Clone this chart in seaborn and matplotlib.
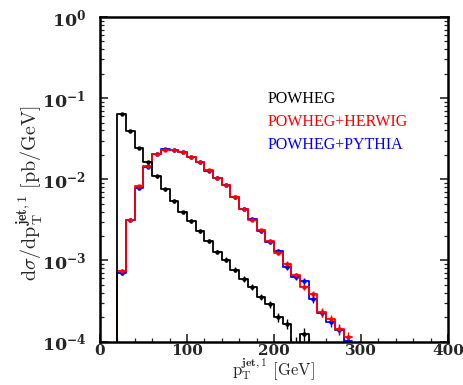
import numpy as np
import pandas as pd
import matplotlib
matplotlib.use("Agg")
import matplotlib.pyplot as plt
import matplotlib.ticker as mticker
import seaborn as sns

# ---- data ----
bin_lo = [20, 30, 40, 50, 60, 70, 80, 90, 100, 110, 120, 130, 140, 150, 160,
          170, 180, 190, 200, 210, 220, 230, 240, 250, 260, 270, 280]
bin_width = 10

powheg = [0.063, 0.0395, 0.0244, 0.0161, 0.0109, 0.0075, 0.0054, 0.0039, 0.00306,
          0.0023, 0.00173, 0.00127, 0.00102, 0.000767, 0.000594, 0.000468, 0.000352,
          0.000286, 0.0002, 0.000166, 0.00009, 0.000124, 0, 0, 0, 0, 0]
# relative uncertainties
powheg_rel = [0.02, 0.03, 0.03, 0.04, 0.04, 0.04, 0.05, 0.05, 0.05, 0.06, 0.06, 0.06,
              0.07, 0.07, 0.08, 0.08, 0.09, 0.10, 0.12, 0.14, 0.25, 0.18, 0, 0, 0, 0, 0]

herwig = [0.00074, 0.00318, 0.0082, 0.0145, 0.0202, 0.0228, 0.0228, 0.0214, 0.0189,
          0.0162, 0.0129, 0.0105, 0.00843, 0.00605, 0.00435, 0.00318, 0.00235, 0.00173,
          0.00124, 0.00091, 0.000653, 0.000468, 0.00038, 0.00023, 0.00019, 0.000144,
          0.000115]
herwig_rel = [0.06, 0.04, 0.03, 0.03, 0.02, 0.02, 0.02, 0.02, 0.02, 0.03, 0.03, 0.03,
              0.03, 0.04, 0.04, 0.05, 0.05, 0.06, 0.06, 0.07, 0.08, 0.09, 0.10, 0.12,
              0.13, 0.14, 0.15]

pythia = [0.0007, 0.00312, 0.0077, 0.0143, 0.0204, 0.0236, 0.0229, 0.0215, 0.019,
          0.0161, 0.0128, 0.0104, 0.0085, 0.006, 0.0043, 0.00322, 0.00232, 0.00168,
          0.00129, 0.000826, 0.000627, 0.00055, 0.000336, 0.000225, 0.000174, 0.00014,
          0.000102]
pythia_rel = herwig_rel

series = [("POWHEG+PYTHIA", pythia, pythia_rel, "#0000ff"),
          ("POWHEG+HERWIG", herwig, herwig_rel, "#ff0000"),
          ("POWHEG", powheg, powheg_rel, "#000000")]

# ---- figure ----
sns.set_style("ticks")
fig = plt.figure(figsize=(4.64, 3.85), dpi=100)
W, H = 464, 385
L, R, T, B = 100, 448, 17, 341.5
ax = fig.add_axes([L / W, 1 - B / H, (R - L) / W, (B - T) / H])

edges = [bin_lo[0] - bin_width] + bin_lo + [bin_lo[-1] + bin_width]
for name, vals, rel, col in series:
    centers = np.array([b + bin_width / 2 for b in bin_lo])
    df = pd.DataFrame({"x": [bin_lo[0] - bin_width / 2] + list(centers) + [bin_lo[-1] + 1.5 * bin_width],
                       "w": [0.0] + list(vals) + [0.0]})
    sns.histplot(data=df, x="x", weights="w", bins=edges, element="step",
                 fill=False, color=col, linewidth=1.3, ax=ax)
    v = np.array(vals)
    m = v > 0
    ax.errorbar(centers[m], v[m], yerr=(v * np.array(rel))[m],
                fmt="o", ms=2.2, color=col, ecolor=col, elinewidth=1.0, capsize=0)

ax.set_yscale("log")
ax.set_xlim(0, 400)
ax.set_ylim(1e-4, 1)
ax.set_xlabel("")
ax.set_ylabel("")

for s in ax.spines.values():
    s.set_visible(True)
    s.set_linewidth(1.8)
    s.set_color("black")

ax.xaxis.set_minor_locator(mticker.MultipleLocator(20))
ax.yaxis.set_minor_locator(mticker.LogLocator(base=10, subs=np.arange(2, 10), numticks=10))
ax.tick_params(axis="x", which="both", direction="in", bottom=True, top=False)
ax.tick_params(axis="y", which="both", direction="in", left=True, right=True)
ax.tick_params(which="major", length=6, width=1.2)
ax.tick_params(which="minor", length=3, width=0.9)
ax.tick_params(axis="x", which="major", pad=2)
ax.tick_params(axis="y", which="major", pad=10)

ax.set_xticks([0, 100, 200, 300, 400])
ax.set_xticklabels(["0", "100", "200", "300", "400"], fontfamily="DejaVu Serif",
                   fontweight="bold", fontsize=11)
yt = [1e-4, 1e-3, 1e-2, 1e-1, 1]
ax.set_yticks(yt)
ylabs = ax.set_yticklabels([r"$\mathbf{10^{-4}}$", r"$\mathbf{10^{-3}}$", r"$\mathbf{10^{-2}}$",
                            r"$\mathbf{10^{-1}}$", r"$\mathbf{10^{0}}$"], fontsize=12.5)
for t in ylabs:
    t.set_math_fontfamily("dejavuserif")

fig.text(30 / W, 1 - 193 / H,
         r"$\mathrm{d}\sigma/\mathrm{dp}_{\mathrm{T}}^{\mathbf{jet,1}}\ \mathrm{[pb/GeV]}$",
         rotation=90, ha="center", va="center", fontsize=14.5, math_fontfamily="cm")
fig.text(273 / W, 1 - 383 / H,
         r"$\mathrm{p}_{\mathrm{T}}^{\mathbf{jet,1}}\ \mathrm{[GeV]}$",
         ha="center", va="bottom", fontsize=12, math_fontfamily="cm")

for lab, y, col in [("POWHEG", 99, "black"), ("POWHEG+HERWIG", 122, "#ff0000"),
                    ("POWHEG+PYTHIA", 145, "#0000ff")]:
    ax.text((268 - L) / (R - L), (B - y) / (B - T), lab, transform=ax.transAxes,
            color=col, fontsize=11.5, fontfamily="Liberation Serif", ha="left", va="center")

fig.savefig("out.png", dpi=100)
